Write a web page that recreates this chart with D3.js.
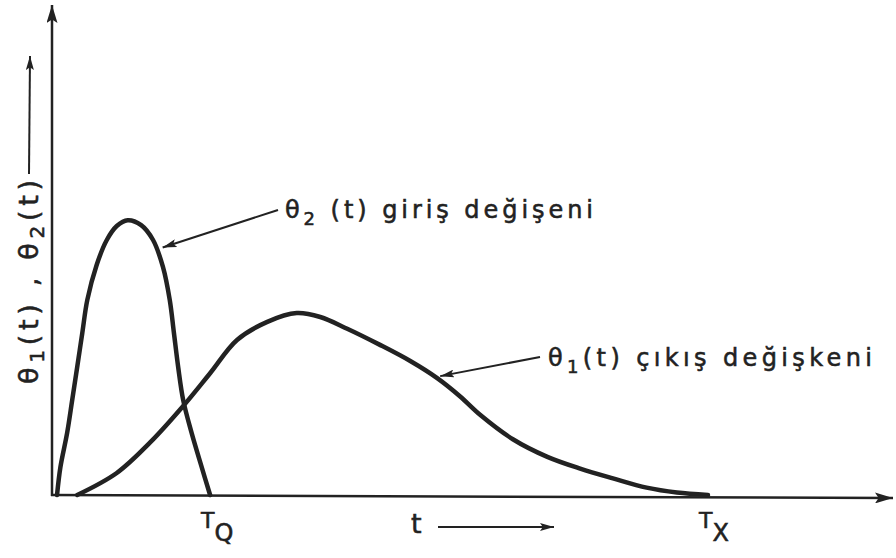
<!DOCTYPE html>
<html>
<head>
<meta charset="utf-8">
<script src="https://cdn.jsdelivr.net/npm/d3@7"></script>
<style>
  body { margin: 0; background: #fff; }
  text { font-family: "DejaVu Sans", sans-serif; fill: #222; stroke: #222; stroke-width: 0.55px; }
</style>
</head>
<body>
<svg id="chart" width="896" height="558"></svg>
<script>
// Input variable θ2(t): short pulse
const inputT = [0.06, 0.10, 0.18, 0.24, 0.30, 0.36, 0.42, 0.53, 0.65, 0.77, 0.90, 1.06, 1.20, 1.32, 1.40, 1.45, 1.50, 1.56, 1.66, 1.78, 1.88];
const inputV = [0.00, 0.57, 1.27, 1.94, 2.62, 3.31, 3.99, 4.70, 5.21, 5.50, 5.62, 5.52, 5.22, 4.66, 3.99, 3.31, 2.62, 1.94, 1.27, 0.57, 0.00];

// Output variable θ1(t): delayed, spread-out response
const outputT = [0.30, 0.77, 1.17, 1.56, 1.88, 2.20, 2.56, 2.91, 3.19, 3.51, 3.90, 4.26, 4.58, 4.85, 5.09, 5.48, 5.89, 6.28, 6.67, 7.07, 7.43, 7.80];
const outputV = [0.00, 0.45, 1.08, 1.82, 2.49, 3.17, 3.54, 3.72, 3.64, 3.40, 3.07, 2.74, 2.39, 2.02, 1.64, 1.14, 0.78, 0.54, 0.34, 0.15, 0.05, 0.00];

// Marked instants on the time axis
const tickNames = ["T", "T"];
const tickSubs = ["Q", "X"];
const tickTimes = [1.88, 7.80];

const svg = d3.select("#chart");
const ink = "#222";

const x = d3.scaleLinear().domain([0, 10]).range([52, 893]);
const y = d3.scaleLinear().domain([0, 10]).range([495, 6]);

// arrowhead markers
const defs = svg.append("defs");
function marker(id, w, h) {
  defs.append("marker")
    .attr("id", id)
    .attr("viewBox", `0 0 ${w} ${h}`)
    .attr("refX", w).attr("refY", h / 2)
    .attr("markerWidth", w).attr("markerHeight", h)
    .attr("markerUnits", "userSpaceOnUse")
    .attr("orient", "auto")
    .append("path")
    .attr("d", `M0,0 L${w},${h / 2} L0,${h} L${w * 0.2},${h / 2} Z`)
    .attr("fill", ink);
}
marker("axisHead", 18, 11);
marker("smallHead", 14, 8);

// axes
svg.append("line")
  .attr("x1", x(0)).attr("y1", y(0) + 1)
  .attr("x2", x(0)).attr("y2", y(10) - 1)
  .attr("stroke", ink).attr("stroke-width", 2.5)
  .attr("marker-end", "url(#axisHead)");
svg.append("line")
  .attr("x1", x(0) - 1).attr("y1", y(0))
  .attr("x2", x(10)).attr("y2", y(0) + 3)
  .attr("stroke", ink).attr("stroke-width", 2.5)
  .attr("marker-end", "url(#axisHead)");

// curves
const line = d3.line()
  .x(d => x(d[0]))
  .y(d => y(d[1]))
  .curve(d3.curveCatmullRom.alpha(0.5));

svg.append("path")
  .datum(d3.zip(inputT, inputV))
  .attr("d", line)
  .attr("fill", "none")
  .attr("stroke", ink).attr("stroke-width", 4.5)
  .attr("stroke-linejoin", "round").attr("stroke-linecap", "round");

svg.append("path")
  .datum(d3.zip(outputT, outputV))
  .attr("d", line)
  .attr("fill", "none")
  .attr("stroke", ink).attr("stroke-width", 4.5)
  .attr("stroke-linejoin", "round").attr("stroke-linecap", "round");

// leader arrows to the curves
function leader(x1, y1, x2, y2) {
  svg.append("line")
    .attr("x1", x1).attr("y1", y1).attr("x2", x2).attr("y2", y2)
    .attr("stroke", ink).attr("stroke-width", 2)
    .attr("marker-end", "url(#smallHead)");
}
leader(278, 210, x(1.28) + 3, y(5.0) - 3);
leader(540, 357, x(4.58) + 3, y(2.39) - 2);

// curve labels
function subLabel(px, py, size, parts, len) {
  const t = svg.append("text")
    .attr("x", px).attr("y", py)
    .attr("font-size", size);
  if (len) t.attr("textLength", len).attr("lengthAdjust", "spacing");
  parts.forEach(p => {
    const s = t.append("tspan").text(p.s);
    if (p.sub) s.attr("font-size", size * 0.75).attr("dy", size * 0.3);
    if (p.up) s.attr("dy", -size * 0.3);
  });
  return t;
}

subLabel(285, 218, 24, [
  { s: "θ" }, { s: "2", sub: true }, { s: " (t)  giriş değişeni", up: true }
], 308);

subLabel(548, 366, 24, [
  { s: "θ" }, { s: "1", sub: true }, { s: "(t)  çıkış  değişkeni", up: true }
], 324);

// y-axis title, rotated
const yTitle = svg.append("g").attr("transform", "translate(38,384) rotate(-90)");
const yt = yTitle.append("text").attr("x", 0).attr("y", 0).attr("font-size", 27)
  .attr("textLength", 204).attr("lengthAdjust", "spacing");
yt.append("tspan").text("θ");
yt.append("tspan").text("1").attr("font-size", 20).attr("dy", 6);
yt.append("tspan").text("(t) , θ").attr("dy", -6);
yt.append("tspan").text("2").attr("font-size", 20).attr("dy", 6);
yt.append("tspan").text("(t)").attr("dy", -6);
svg.append("line")
  .attr("x1", 29).attr("y1", 174).attr("x2", 30).attr("y2", 56)
  .attr("stroke", ink).attr("stroke-width", 2)
  .attr("marker-end", "url(#smallHead)");

// time-axis labels
tickTimes.forEach((tv, i) => {
  const t = svg.append("text")
    .attr("x", x(tv) - 9).attr("y", 528)
    .attr("font-size", 22);
  t.append("tspan").text(tickNames[i]);
  t.append("tspan").text(tickSubs[i]).attr("font-size", 24).attr("dy", 13).attr("dx", 0);
});

svg.append("text").attr("x", 411).attr("y", 533).attr("font-size", 27).text("t");
svg.append("line")
  .attr("x1", 438).attr("y1", 527).attr("x2", 554).attr("y2", 527)
  .attr("stroke", ink).attr("stroke-width", 2)
  .attr("marker-end", "url(#smallHead)");
</script>
</body>
</html>
